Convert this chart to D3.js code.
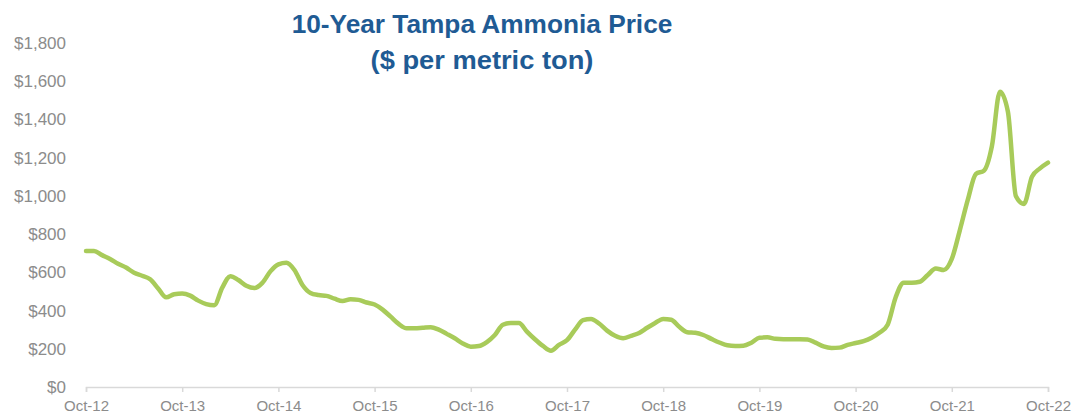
<!DOCTYPE html>
<html>
<head>
<meta charset="utf-8">
<script src="https://cdn.jsdelivr.net/npm/d3@7"></script>
<style>
  body { margin: 0; background: #fff; }
  text { font-family: "Liberation Sans", Arial, sans-serif; }
</style>
</head>
<body>
<svg id="chart" width="1073" height="419"></svg>
<script>
"use strict";

// monthly Tampa ammonia price, Oct-12 .. Oct-22 ($ per metric ton)
const prices = [
  712, 712, 690, 670, 645, 625, 598, 582, 564, 516, 469, 485,
  489, 478, 452, 434, 428, 520, 580, 560, 530, 518, 545, 605,
  642, 650, 612, 534, 492, 481, 477, 462, 450, 459, 456, 442,
  432, 405, 368, 330, 307, 307, 310, 313, 300, 278, 255, 228,
  211, 214, 235, 272, 326, 335, 335, 290, 250, 215, 190, 220,
  245, 300, 350, 356, 332, 295, 268, 255, 268, 283, 310, 335,
  356, 352, 315, 287, 284, 272, 252, 233, 218, 215, 216, 232,
  258, 260, 252, 250, 250, 250, 249, 232, 212, 204, 206, 220,
  230, 240, 258, 285, 326, 470, 546, 546, 551, 586, 620, 612,
  670, 820, 980, 1115, 1132, 1260, 1545, 1440, 998, 958, 1100, 1144,
  1174
];

const xTickLabels = ["Oct-12", "Oct-13", "Oct-14", "Oct-15", "Oct-16", "Oct-17",
                     "Oct-18", "Oct-19", "Oct-20", "Oct-21", "Oct-22"];
const yTicks = [0, 200, 400, 600, 800, 1000, 1200, 1400, 1600, 1800];
const titleLines = ["10-Year Tampa Ammonia Price", "($ per metric ton)"];

const svg = d3.select("#chart");

const xScale = d3.scaleLinear().domain([0, prices.length - 1]).range([86, 1048]);
const yScale = d3.scaleLinear().domain([0, 1800]).range([387, 43]);

/* y axis labels, no line */
const yAxis = d3.axisLeft(yScale)
    .tickValues(yTicks)
    .tickSize(0)
    .tickPadding(0)
    .tickFormat(d => "$" + d3.format(",")(d));

svg.append("g")
    .attr("transform", "translate(66,0)")
    .call(yAxis)
    .call(g => g.select(".domain").remove())
    .selectAll("text")
    .attr("fill", "#8c8c8c")
    .style("font-size", "17px");

/* x axis with year ticks */
const xAxis = d3.axisBottom(xScale)
    .tickValues(xTickLabels.map((d, i) => i * 12))
    .tickSize(5)
    .tickPadding(8)
    .tickFormat((d, i) => xTickLabels[i]);

const xg = svg.append("g")
    .attr("transform", "translate(0,387)")
    .call(xAxis);
xg.select(".domain").attr("stroke", "#d9d9d9").attr("stroke-width", 1.5);
xg.selectAll(".tick line").attr("stroke", "#d9d9d9").attr("stroke-width", 1.5);
xg.selectAll("text")
    .attr("fill", "#8c8c8c")
    .style("font-size", "15px");

/* price line */
const line = d3.line()
    .x((d, i) => xScale(i))
    .y(d => yScale(d))
    .curve(d3.curveMonotoneX);

svg.append("path")
    .datum(prices)
    .attr("d", line)
    .attr("fill", "none")
    .attr("stroke", "#a8cb5a")
    .attr("stroke-width", 4.5)
    .attr("stroke-linejoin", "round")
    .attr("stroke-linecap", "round");

/* title */
svg.append("g")
    .selectAll("text")
    .data(titleLines)
    .enter().append("text")
    .attr("transform", (d, i) => "translate(482," + (33 + i * 36) + ") scale(1.05,1)")
    .attr("text-anchor", "middle")
    .attr("fill", "#1f5b94")
    .style("font-size", (d, i) => i === 0 ? "25px" : "26px")
    .style("font-weight", "bold")
    .text(d => d);
</script>
</body>
</html>
